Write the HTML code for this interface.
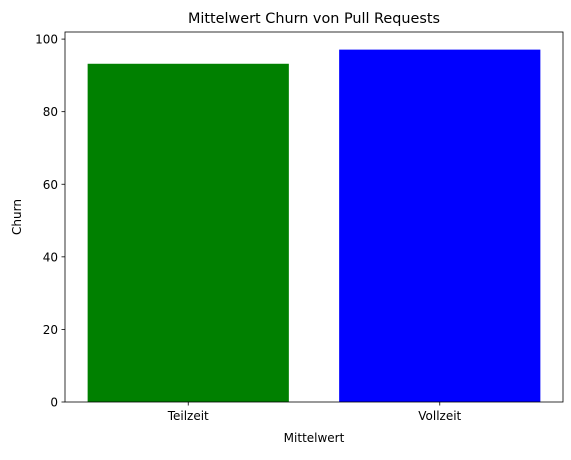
<!DOCTYPE html>
<html><head><meta charset="utf-8"><style>
body{margin:0;background:#fff;}
svg text{font-family:"DejaVu Sans","Liberation Sans",sans-serif;fill:#000;}
</style></head><body>
<svg id="chart" width="571" height="455" xmlns="http://www.w3.org/2000/svg">
<text x="314" y="23" font-size="14.4" text-anchor="middle">Mittelwert Churn von Pull Requests</text>
<text x="314" y="442" font-size="12" text-anchor="middle">Mittelwert</text>
<text x="0" y="0" font-size="12" text-anchor="middle" transform="translate(21,217) rotate(-90)">Churn</text>
<g id="bars"></g><g id="axes"></g>
</svg>
<script>
const categories=["Teilzeit","Vollzeit"];
const values=[93.2,97.1];
const colors=["#008000","#0000ff"];
const yTicks=[0,20,40,60,80,100];
const L=65,R=563,B=402,T=32;
const xmin=-0.49,xmax=1.49,ymax=Math.max(...values)*1.05;
const x=v=>L+(v-xmin)/(xmax-xmin)*(R-L);
const y=v=>B-v/ymax*(B-T);
const ns="http://www.w3.org/2000/svg";
const bars=document.getElementById('bars'),axes=document.getElementById('axes');
function mk(tag,attrs,parent){const e=document.createElementNS(ns,tag);for(const k in attrs)e.setAttribute(k,attrs[k]);parent.appendChild(e);return e;}
values.forEach((v,i)=>{
 const r=mk('rect',{x:x(i-0.4),y:y(v),width:x(i+0.4)-x(i-0.4),height:B-y(v),fill:colors[i]},bars);
 
 
 const t=mk('line',{x1:x(i),x2:x(i),y1:B,y2:B+3.5,stroke:'#000','stroke-width':0.8},axes);
 const lb=mk('text',{x:x(i),y:B+18,'font-size':12,'text-anchor':'middle'},axes);
 lb.textContent=categories[i];
 
 
});
yTicks.forEach(v=>{
 mk('line',{x1:L-3.5,x2:L,y1:y(v),y2:y(v),stroke:'#000','stroke-width':0.8},axes);
 const lb=mk('text',{x:L-7,y:y(v)+4.5,'font-size':12,'text-anchor':'end'},axes);
 lb.textContent=v;
 
 
});
const fr=mk('rect',{x:L,y:T,width:R-L,height:B-T,fill:'none',stroke:'#000','stroke-width':0.8},axes);


</script>
</body></html>
